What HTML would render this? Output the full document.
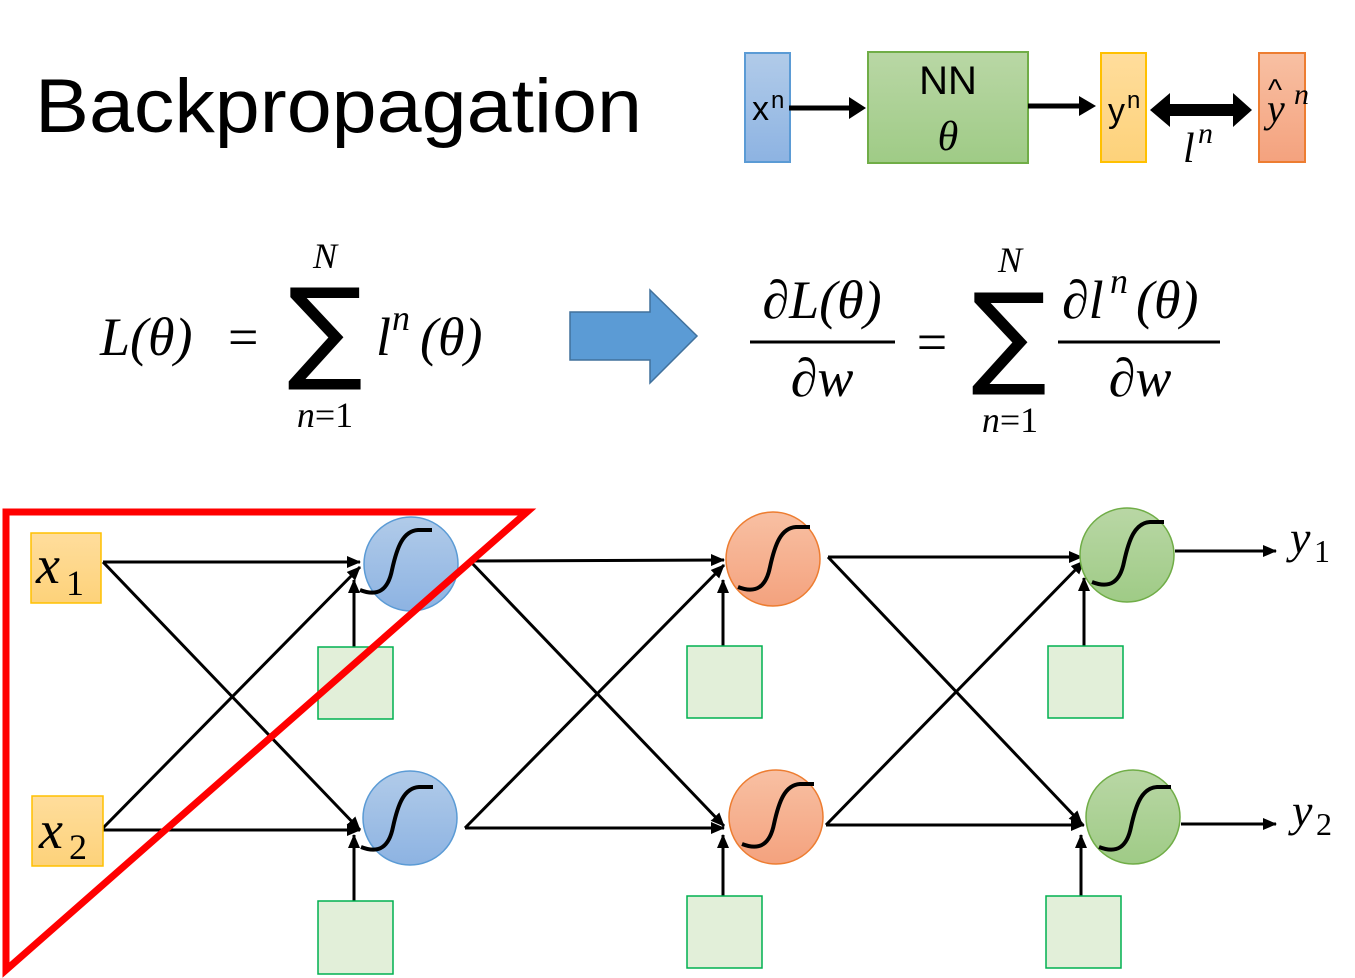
<!DOCTYPE html>
<html><head><meta charset="utf-8"><style>
html,body{margin:0;padding:0;background:#fff;}
svg{display:block}
.m{font-family:"Liberation Serif",serif;font-style:italic;fill:#000}
.s{font-family:"Liberation Sans",sans-serif;fill:#000}
</style></head><body>
<svg width="1355" height="978" viewBox="0 0 1355 978" xmlns="http://www.w3.org/2000/svg">
<defs>
<linearGradient id="gb" x1="0" y1="0" x2="0" y2="1"><stop offset="0" stop-color="#b1cbe9"/><stop offset="1" stop-color="#8db3e2"/></linearGradient>
<linearGradient id="gg" x1="0" y1="0" x2="0" y2="1"><stop offset="0" stop-color="#b9d7a5"/><stop offset="1" stop-color="#9fcb86"/></linearGradient>
<linearGradient id="gy" x1="0" y1="0" x2="0" y2="1"><stop offset="0" stop-color="#ffdd9c"/><stop offset="1" stop-color="#fdd27a"/></linearGradient>
<linearGradient id="go" x1="0" y1="0" x2="0" y2="1"><stop offset="0" stop-color="#f8c0a3"/><stop offset="1" stop-color="#f4a27e"/></linearGradient>
<marker id="a" markerWidth="14" markerHeight="12" refX="13" refY="6" orient="auto" markerUnits="userSpaceOnUse"><path d="M0,0 L14,6 L0,12 Z" fill="#000"/></marker>
</defs>

<text x="35" y="132" class="s" font-size="76" textLength="607" lengthAdjust="spacingAndGlyphs">Backpropagation</text>

<!-- top flow -->
<rect x="745" y="53" width="45" height="109" fill="url(#gb)" stroke="#5b9bd5" stroke-width="2"/>
<text x="752" y="120" class="s" font-size="34">x</text><text x="771" y="108" class="s" font-size="24">n</text>
<rect x="868" y="52" width="160" height="111" fill="url(#gg)" stroke="#70ad47" stroke-width="2"/>
<text x="948" y="94" class="s" font-size="40" text-anchor="middle">NN</text>
<text x="948" y="150" class="m" font-size="42" text-anchor="middle">θ</text>
<rect x="1101" y="53" width="45" height="109" fill="url(#gy)" stroke="#ffc000" stroke-width="2"/>
<text x="1108" y="122" class="s" font-size="34">y</text><text x="1127" y="108" class="s" font-size="24">n</text>
<rect x="1259" y="53" width="46" height="109" fill="url(#go)" stroke="#ed7d31" stroke-width="2"/>
<text x="1267" y="122" class="m" font-size="40">y</text><text x="1268" y="100" class="s" font-size="30">^</text><text x="1294" y="104" class="m" font-size="30">n</text>
<line x1="789" y1="108" x2="852" y2="108" stroke="#000" stroke-width="5"/>
<path d="M849,97 L866,108 L849,119 Z" fill="#000"/>
<line x1="1028" y1="106" x2="1082" y2="106" stroke="#000" stroke-width="5"/>
<path d="M1079,96 L1096,106 L1079,116 Z" fill="#000"/>
<path d="M1150,110 L1170,93 L1170,104 L1233,104 L1233,93 L1252,110 L1233,127 L1233,116 L1170,116 L1170,127 Z" fill="#000"/>
<text x="1183" y="162" class="m" font-size="42">l</text><text x="1198" y="143" class="m" font-size="30">n</text>

<!-- formula left -->
<text x="100" y="355" class="m" font-size="54">L(θ)</text>
<text x="228" y="355" class="m" font-size="54" style="font-style:normal">=</text>
<text x="325" y="268" class="m" font-size="36" text-anchor="middle">N</text>
<text x="325" y="368" font-family="DejaVu Sans,sans-serif" font-size="112" text-anchor="middle">∑</text>
<text x="325" y="427" class="m" font-size="36" text-anchor="middle">n<tspan style="font-style:normal">=1</tspan></text>
<text x="376" y="355" class="m" font-size="54">l</text><text x="392" y="330" class="m" font-size="36">n</text><text x="420" y="355" class="m" font-size="54">(θ)</text>
<path d="M570,312 L650,312 L650,290 L697,336 L650,383 L650,360 L570,360 Z" fill="#5b9bd5" stroke="#41719c" stroke-width="1.5"/>

<!-- formula right -->
<text x="822" y="318" class="m" font-size="54" text-anchor="middle">∂L(θ)</text>
<line x1="750" y1="342" x2="895" y2="342" stroke="#000" stroke-width="3"/>
<text x="822" y="396" class="m" font-size="54" text-anchor="middle">∂w</text>
<text x="932" y="360" class="m" font-size="54" text-anchor="middle" style="font-style:normal">=</text>
<text x="1010" y="272" class="m" font-size="36" text-anchor="middle">N</text>
<text x="1009" y="373" font-family="DejaVu Sans,sans-serif" font-size="112" text-anchor="middle">∑</text>
<text x="1010" y="432" class="m" font-size="36" text-anchor="middle">n<tspan style="font-style:normal">=1</tspan></text>
<text x="1062" y="318" class="m" font-size="54">∂l</text><text x="1110" y="293" class="m" font-size="36">n</text><text x="1136" y="318" class="m" font-size="54">(θ)</text>
<line x1="1058" y1="342" x2="1220" y2="342" stroke="#000" stroke-width="3"/>
<text x="1140" y="396" class="m" font-size="54" text-anchor="middle">∂w</text>

<!-- network -->
<g stroke="#000" stroke-width="3" fill="none">
<line x1="103" y1="562" x2="360" y2="562" marker-end="url(#a)"/>
<line x1="103" y1="562" x2="360" y2="830" marker-end="url(#a)"/>
<line x1="103" y1="830" x2="360" y2="830" marker-end="url(#a)"/>
<line x1="103" y1="828" x2="360" y2="567" marker-end="url(#a)"/>
<line x1="470" y1="561" x2="724" y2="560" marker-end="url(#a)"/>
<line x1="470" y1="561" x2="724" y2="826" marker-end="url(#a)"/>
<line x1="465" y1="828" x2="724" y2="828" marker-end="url(#a)"/>
<line x1="465" y1="828" x2="724" y2="565" marker-end="url(#a)"/>
<line x1="828" y1="557" x2="1082" y2="557" marker-end="url(#a)"/>
<line x1="828" y1="557" x2="1082" y2="824" marker-end="url(#a)"/>
<line x1="826" y1="825" x2="1084" y2="825" marker-end="url(#a)"/>
<line x1="826" y1="825" x2="1084" y2="561" marker-end="url(#a)"/>
<line x1="1175" y1="551" x2="1276" y2="551" marker-end="url(#a)"/>
<line x1="1181" y1="824" x2="1276" y2="824" marker-end="url(#a)"/>
<line x1="354" y1="647" x2="354" y2="580" marker-end="url(#a)"/>
<line x1="354" y1="901" x2="354" y2="835" marker-end="url(#a)"/>
<line x1="723" y1="646" x2="723" y2="580" marker-end="url(#a)"/>
<line x1="723" y1="896" x2="723" y2="835" marker-end="url(#a)"/>
<line x1="1084" y1="646" x2="1084" y2="578" marker-end="url(#a)"/>
<line x1="1081" y1="896" x2="1081" y2="835" marker-end="url(#a)"/>
</g>

<g stroke-width="1.5">
<rect x="318" y="647" width="75" height="72" fill="#e2efd9" stroke="#00b050"/>
<rect x="318" y="901" width="75" height="73" fill="#e2efd9" stroke="#00b050"/>
<rect x="687" y="646" width="75" height="72" fill="#e2efd9" stroke="#00b050"/>
<rect x="687" y="896" width="75" height="72" fill="#e2efd9" stroke="#00b050"/>
<rect x="1048" y="646" width="75" height="72" fill="#e2efd9" stroke="#00b050"/>
<rect x="1046" y="896" width="75" height="72" fill="#e2efd9" stroke="#00b050"/>
<circle cx="411" cy="564" r="47" fill="url(#gb)" stroke="#5b9bd5"/>
<circle cx="410" cy="818" r="47" fill="url(#gb)" stroke="#5b9bd5"/>
<circle cx="773" cy="559" r="47" fill="url(#go)" stroke="#ed7d31"/>
<circle cx="776" cy="817" r="47" fill="url(#go)" stroke="#ed7d31"/>
<circle cx="1127" cy="555" r="47" fill="url(#gg)" stroke="#70ad47"/>
<circle cx="1133" cy="817" r="47" fill="url(#gg)" stroke="#70ad47"/>
<rect x="31" y="533" width="70" height="70" fill="url(#gy)" stroke="#ffc000"/>
<rect x="32" y="796" width="71" height="70" fill="url(#gy)" stroke="#ffc000"/>
</g>
<g stroke="#000" stroke-width="4" fill="none">
<path d="M-38,25 C-20,32 -10,25 -6,5 C-1,-18 5,-34 20,-35 L34,-35" transform="translate(398 565)"/>
<path d="M-38,25 C-20,32 -10,25 -6,5 C-1,-18 5,-34 20,-35 L34,-35" transform="translate(399 822)"/>
<path d="M-38,25 C-20,32 -10,25 -6,5 C-1,-18 5,-34 20,-35 L34,-35" transform="translate(776 562)"/>
<path d="M-38,25 C-20,32 -10,25 -6,5 C-1,-18 5,-34 20,-35 L34,-35" transform="translate(780 819)"/>
<path d="M-38,25 C-20,32 -10,25 -6,5 C-1,-18 5,-34 20,-35 L34,-35" transform="translate(1130 557)"/>
<path d="M-38,25 C-20,32 -10,25 -6,5 C-1,-18 5,-34 20,-35 L34,-35" transform="translate(1137 822)"/>
</g>
<text x="36" y="583" class="m" font-size="54">x</text><text x="66" y="595" font-family="Liberation Serif,serif" font-size="36">1</text>
<text x="39" y="848" class="m" font-size="54">x</text><text x="69" y="859" font-family="Liberation Serif,serif" font-size="36">2</text>
<text x="1290" y="553" class="m" font-size="46">y</text><text x="1314" y="562" font-family="Liberation Serif,serif" font-size="32">1</text>
<text x="1292" y="826" class="m" font-size="46">y</text><text x="1316" y="835" font-family="Liberation Serif,serif" font-size="32">2</text>

<path d="M6,512 L527,512 L6,970 Z" fill="none" stroke="#ff0000" stroke-width="7" stroke-linejoin="miter"/>
</svg>
</body></html>
